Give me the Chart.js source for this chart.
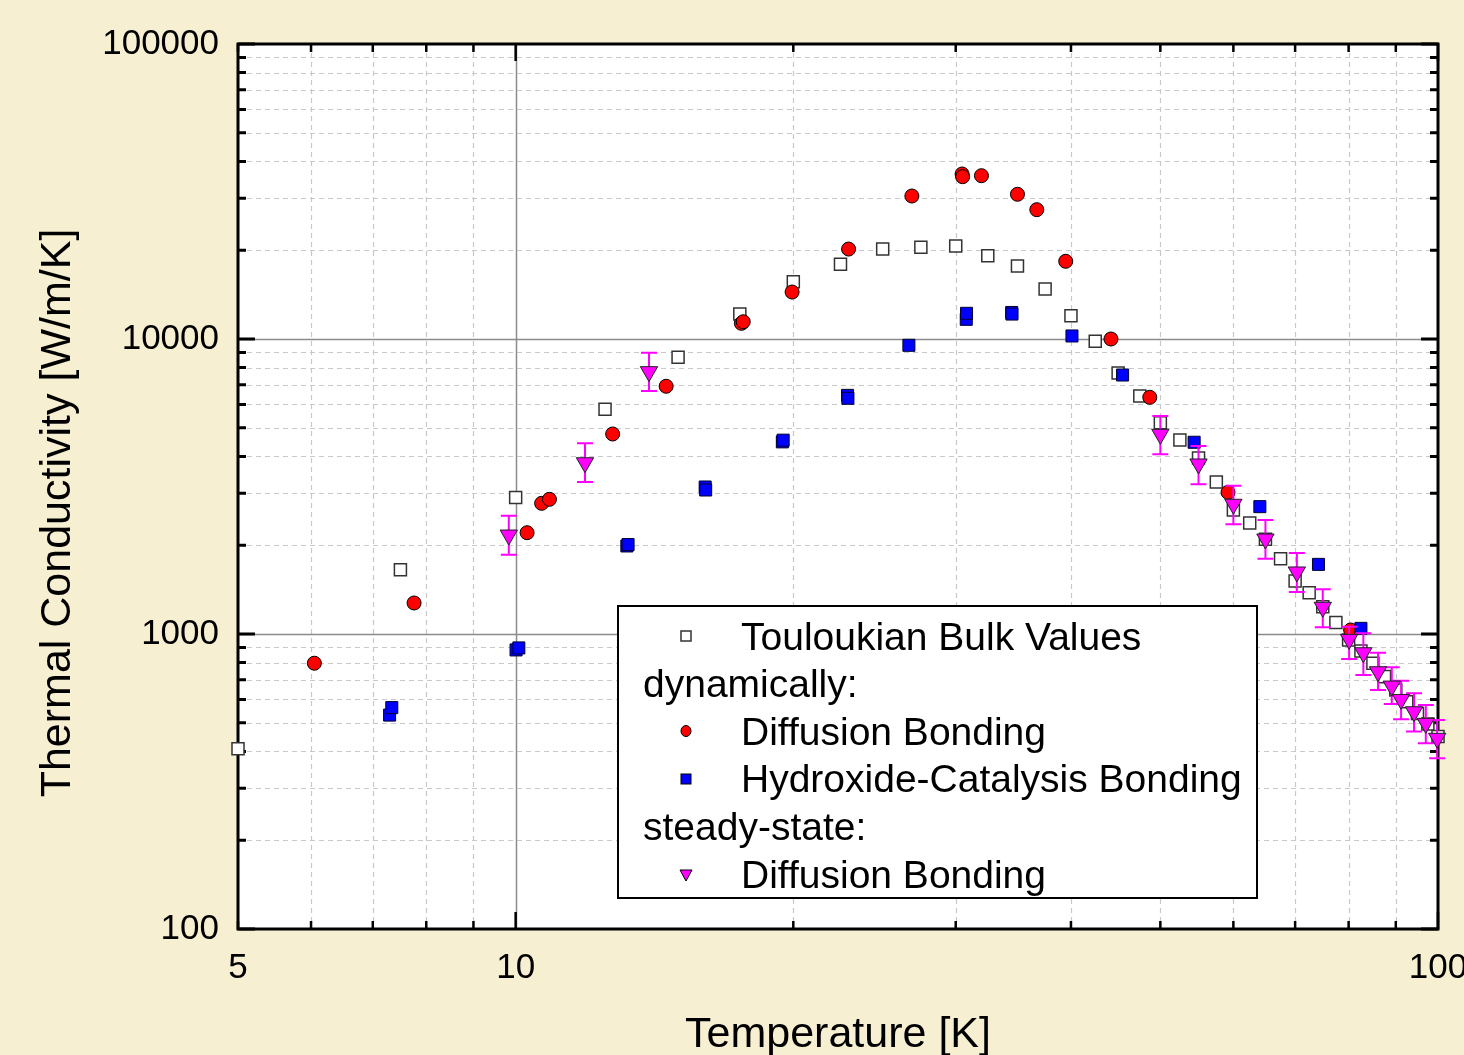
<!DOCTYPE html>
<html>
<head>
<meta charset="utf-8">
<script src="https://cdn.jsdelivr.net/npm/chart.js@4.4.1/dist/chart.umd.min.js"></script>
<style>
  html, body { margin: 0; padding: 0; background: #f7efd1; }
  #wrap { width: 1464px; height: 1055px; position: relative; }
</style>
</head>
<body>
<div id="wrap"><canvas id="grafico"></canvas></div>
<script>
// Touloukian bulk values (open squares)
const touloukianT = [5, 7.5, 10, 12.5, 15, 17.5, 20, 22.5, 25, 27.5, 30, 32.5, 35, 37.5, 40, 42.5, 45, 47.5, 50, 52.5,
  55, 57.5, 60, 62.5, 65, 67.5, 70, 72.5, 75, 77.5, 80, 82.5, 85, 87.5, 90, 92.5, 95, 97.5, 100];
const touloukianK = [408, 1650, 2900, 5780, 8670, 12150, 15640, 17920, 20180, 20460, 20670, 19160, 17680, 14770, 11990, 9820,
  7670, 6410, 5200, 4547, 3950, 3275, 2632, 2380, 2094, 1800, 1512, 1380, 1237, 1094, 954, 876, 796, 717, 646, 589, 538, 495, 449];

// dynamisch: Diffusion Bonding (rote Kreise)
const diffDynT = [6.05, 7.76, 10.29, 10.67, 10.88, 12.74, 14.56, 17.57, 17.65, 19.94, 22.96, 26.89, 30.48, 30.52, 31.99,
  35.0, 36.73, 39.48, 44.2, 48.7, 59.2, 80.4];
const diffDynK = [796, 1274, 2205, 2773, 2861, 4764, 6914, 11300, 11440, 14430, 20180, 30530, 36250, 35500, 35780,
  30940, 27440, 18340, 10000, 6344, 3022, 1032];

// dynamisch: Hydroxide-Catalysis Bonding (blaue Quadrate)
const hcbT = [7.30, 7.34, 10.01, 10.08, 13.20, 13.24, 16.05, 16.07, 19.46, 19.50, 22.90, 22.92, 26.69, 30.80, 30.82,
  34.50, 34.52, 40.1, 45.5, 54.4, 64.1, 74.2, 82.5];
const hcbK = [531, 563, 883, 897, 1988, 2010, 3150, 3077, 4480, 4540, 6440, 6295, 9520, 11660, 12220,
  12300, 12150, 10240, 7550, 4466, 2702, 1722, 1045];

// stationär: Diffusion Bonding (Dreiecke mit Fehlerbalken)
const steadyT = [9.83, 11.89, 13.95, 50, 55, 60, 65, 70.3, 75, 80.1, 83.0, 86.1, 89.1, 91.2, 94.2, 97.0, 99.8];
const steadyK = [2165, 3807, 7750, 4753, 3770, 2753, 2099, 1623, 1232, 959, 864, 745, 666, 600, 545, 498, 443];
const steadyHi = [2518, 4430, 8986, 5483, 4337, 3182, 2435, 1882, 1418, 1059, 1005, 864, 771, 694, 630, 574, 511];
const steadyLo = [1857, 3276, 6664, 4064, 3217, 2355, 1800, 1388, 1054, 823, 726, 646, 579, 514, 467, 426, 379];

// Achsen
const xTicks = [5, 6, 7, 8, 9, 10, 20, 30, 40, 50, 60, 70, 80, 90, 100];
const xLabels = [5, 10, 100];
const yTicks = [100, 200, 300, 400, 500, 600, 700, 800, 900, 1000, 2000, 3000, 4000, 5000, 6000, 7000, 8000, 9000,
  10000, 20000, 30000, 40000, 50000, 60000, 70000, 80000, 90000, 100000];
const yLabels = [100, 1000, 10000, 100000];

const FONT = '"Liberation Sans", Arial, sans-serif';

function pts(xs, ys) {
  return xs.map((v, i) => ({ x: v, y: ys[i] }));
}

function isDecade(v) {
  const l = Math.log10(v);
  return Math.abs(l - Math.round(l)) < 1e-9;
}

// Hintergrund, Gitter, Rahmen und Striche
const framePlugin = {
  id: 'frame',
  beforeDraw(chart) {
    const { ctx, chartArea: a } = chart;
    ctx.save();
    ctx.fillStyle = '#ffffff';
    ctx.fillRect(a.left, a.top, a.right - a.left, a.bottom - a.top);
    ctx.restore();
  },
  beforeDatasetsDraw(chart) {
    const { ctx, chartArea: a, scales: { x, y } } = chart;
    ctx.save();
    // gitterlinien
    xTicks.forEach(v => {
      if (v <= 5 || v >= 100) return;
      const px = Math.round(x.getPixelForValue(v)) + 0.5;
      ctx.beginPath();
      if (isDecade(v)) { ctx.setLineDash([]); ctx.strokeStyle = '#8c8c8c'; ctx.lineWidth = 1.5; }
      else { ctx.setLineDash([5, 4]); ctx.strokeStyle = '#c8c8c8'; ctx.lineWidth = 1.2; }
      ctx.moveTo(px, a.top); ctx.lineTo(px, a.bottom);
      ctx.stroke();
    });
    yTicks.forEach(v => {
      if (v <= 100 || v >= 100000) return;
      const py = Math.round(y.getPixelForValue(v)) + 0.5;
      ctx.beginPath();
      if (isDecade(v)) { ctx.setLineDash([]); ctx.strokeStyle = '#8c8c8c'; ctx.lineWidth = 1.5; }
      else { ctx.setLineDash([5, 4]); ctx.strokeStyle = '#c8c8c8'; ctx.lineWidth = 1.2; }
      ctx.moveTo(a.left, py); ctx.lineTo(a.right, py);
      ctx.stroke();
    });
    ctx.setLineDash([]);

    // striche nach innen, alle vier seiten
    ctx.strokeStyle = '#000';
    ctx.lineWidth = 2.5;
    xTicks.forEach(v => {
      const px = x.getPixelForValue(v);
      const len = isDecade(v) ? 17 : 8;
      ctx.beginPath();
      ctx.moveTo(px, a.bottom); ctx.lineTo(px, a.bottom - len);
      ctx.moveTo(px, a.top); ctx.lineTo(px, a.top + len);
      ctx.stroke();
    });
    ctx.lineWidth = 3;
    yTicks.forEach(v => {
      const py = y.getPixelForValue(v);
      const len = isDecade(v) ? 17 : 8;
      ctx.beginPath();
      ctx.moveTo(a.left, py); ctx.lineTo(a.left + len, py);
      ctx.moveTo(a.right, py); ctx.lineTo(a.right - len, py);
      ctx.stroke();
    });

    // rahmen
    ctx.lineWidth = 3;
    ctx.strokeRect(a.left, a.top, a.right - a.left, a.bottom - a.top);
    ctx.restore();
  }
};

// Fehlerbalken für die stationären Messungen
const errorBars = {
  id: 'errorBars',
  beforeDatasetDraw(chart, args) {
    if (args.index !== 3) return;
    const { ctx, scales: { x, y } } = chart;
    ctx.save();
    ctx.strokeStyle = '#ff00ff';
    ctx.lineWidth = 2;
    steadyT.forEach((t, i) => {
      const px = x.getPixelForValue(t);
      const top = y.getPixelForValue(steadyHi[i]);
      const bot = y.getPixelForValue(steadyLo[i]);
      ctx.beginPath();
      ctx.moveTo(px, top); ctx.lineTo(px, bot);
      ctx.moveTo(px - 8, top); ctx.lineTo(px + 8, top);
      ctx.moveTo(px - 8, bot); ctx.lineTo(px + 8, bot);
      ctx.stroke();
    });
    ctx.restore();
  }
};

// Achsentitel und Legende
const overlay = {
  id: 'overlay',
  afterDraw(chart) {
    const ctx = chart.ctx;
    ctx.save();
    ctx.fillStyle = '#000';
    ctx.font = '43px ' + FONT;
    ctx.textAlign = 'center';
    ctx.textBaseline = 'alphabetic';
    ctx.fillText('Temperature [K]', 838, 1047);
    ctx.translate(70, 513);
    ctx.rotate(-Math.PI / 2);
    ctx.fillText('Thermal Conductivity [W/m/K]', 0, 0);
    ctx.restore();

    // legende
    ctx.save();
    ctx.fillStyle = '#fff';
    ctx.fillRect(618, 606, 639, 292);
    ctx.strokeStyle = '#000';
    ctx.lineWidth = 2;
    ctx.strokeRect(618, 606, 639, 292);

    ctx.font = '39px ' + FONT;
    ctx.fillStyle = '#000';
    ctx.textAlign = 'left';
    ctx.textBaseline = 'alphabetic';
    ctx.fillText('Touloukian Bulk Values', 741, 650);
    ctx.fillText('dynamically:', 643, 697);
    ctx.fillText('Diffusion Bonding', 741, 745);
    ctx.fillText('Hydroxide-Catalysis Bonding', 741, 792);
    ctx.fillText('steady-state:', 643, 840);
    ctx.fillText('Diffusion Bonding', 741, 888);

    ctx.lineWidth = 1.5;
    ctx.strokeStyle = '#333';
    ctx.fillStyle = '#fff';
    ctx.fillRect(681, 631, 10, 10);
    ctx.strokeRect(681, 631, 10, 10);

    ctx.strokeStyle = '#000';
    ctx.lineWidth = 1;
    ctx.fillStyle = '#ff0000';
    ctx.beginPath();
    ctx.ellipse(686, 731, 5, 5.5, 0, 0, Math.PI * 2);
    ctx.fill(); ctx.stroke();

    ctx.fillStyle = '#0000ff';
    ctx.fillRect(681, 774, 10, 10);
    ctx.strokeRect(681, 774, 10, 10);

    ctx.fillStyle = '#ff00ff';
    ctx.beginPath();
    ctx.moveTo(680, 870); ctx.lineTo(692, 870); ctx.lineTo(686, 881); ctx.closePath();
    ctx.fill(); ctx.stroke();
    ctx.restore();
  }
};

document.addEventListener('DOMContentLoaded', function () {
  const ctx = document.getElementById('grafico').getContext('2d');
  new Chart(ctx, {
    type: 'scatter',
    data: {
      datasets: [
        {
          label: 'Touloukian Bulk Values',
          data: pts(touloukianT, touloukianK),
          pointStyle: 'rect', pointRadius: 8.5,
          backgroundColor: '#ffffff', borderColor: '#333333', borderWidth: 1.5,
          order: 4, clip: false
        },
        {
          label: 'Diffusion Bonding (dynamically)',
          data: pts(diffDynT, diffDynK),
          pointStyle: 'circle', pointRadius: 7,
          backgroundColor: '#ff0000', borderColor: '#000000', borderWidth: 1,
          order: 3, clip: false
        },
        {
          label: 'Hydroxide-Catalysis Bonding',
          data: pts(hcbT, hcbK),
          pointStyle: 'rect', pointRadius: 8.5,
          backgroundColor: '#0000ff', borderColor: '#000033', borderWidth: 1,
          order: 2, clip: false
        },
        {
          label: 'Diffusion Bonding (steady-state)',
          data: pts(steadyT, steadyK),
          pointStyle: 'triangle', pointRotation: 180, pointRadius: 10,
          backgroundColor: '#ff00ff', borderColor: '#222222', borderWidth: 1,
          order: 1, clip: false
        }
      ]
    },
    options: {
      responsive: true,
      maintainAspectRatio: false,
      animation: false,
      events: [],
      layout: { padding: { left: 0, top: 44, right: 26, bottom: 0 } },
      plugins: {
        legend: { display: false },
        tooltip: { enabled: false }
      },
      scales: {
        x: {
          type: 'logarithmic',
          min: 5, max: 100,
          grid: { display: false },
          border: { display: false },
          afterBuildTicks: s => { s.ticks = xTicks.map(v => ({ value: v })); },
          afterFit: s => { s.height = 126; s.paddingLeft = 0; s.paddingRight = 0; },
          ticks: {
            autoSkip: false, maxRotation: 0, padding: 10,
            color: '#000', font: { family: FONT, size: 35 },
            callback: v => xLabels.includes(v) ? String(v) : ''
          }
        },
        y: {
          type: 'logarithmic',
          min: 100, max: 100000,
          grid: { display: false },
          border: { display: false },
          afterBuildTicks: s => { s.ticks = yTicks.map(v => ({ value: v })); },
          afterFit: s => { s.width = 238; s.paddingTop = 0; s.paddingBottom = 0; },
          ticks: {
            autoSkip: false, padding: 11,
            color: '#000', font: { family: FONT, size: 35 },
            callback: v => yLabels.includes(v) ? String(v) : ''
          }
        }
      }
    },
    plugins: [framePlugin, errorBars, overlay]
  });
});
</script>
</body>
</html>
